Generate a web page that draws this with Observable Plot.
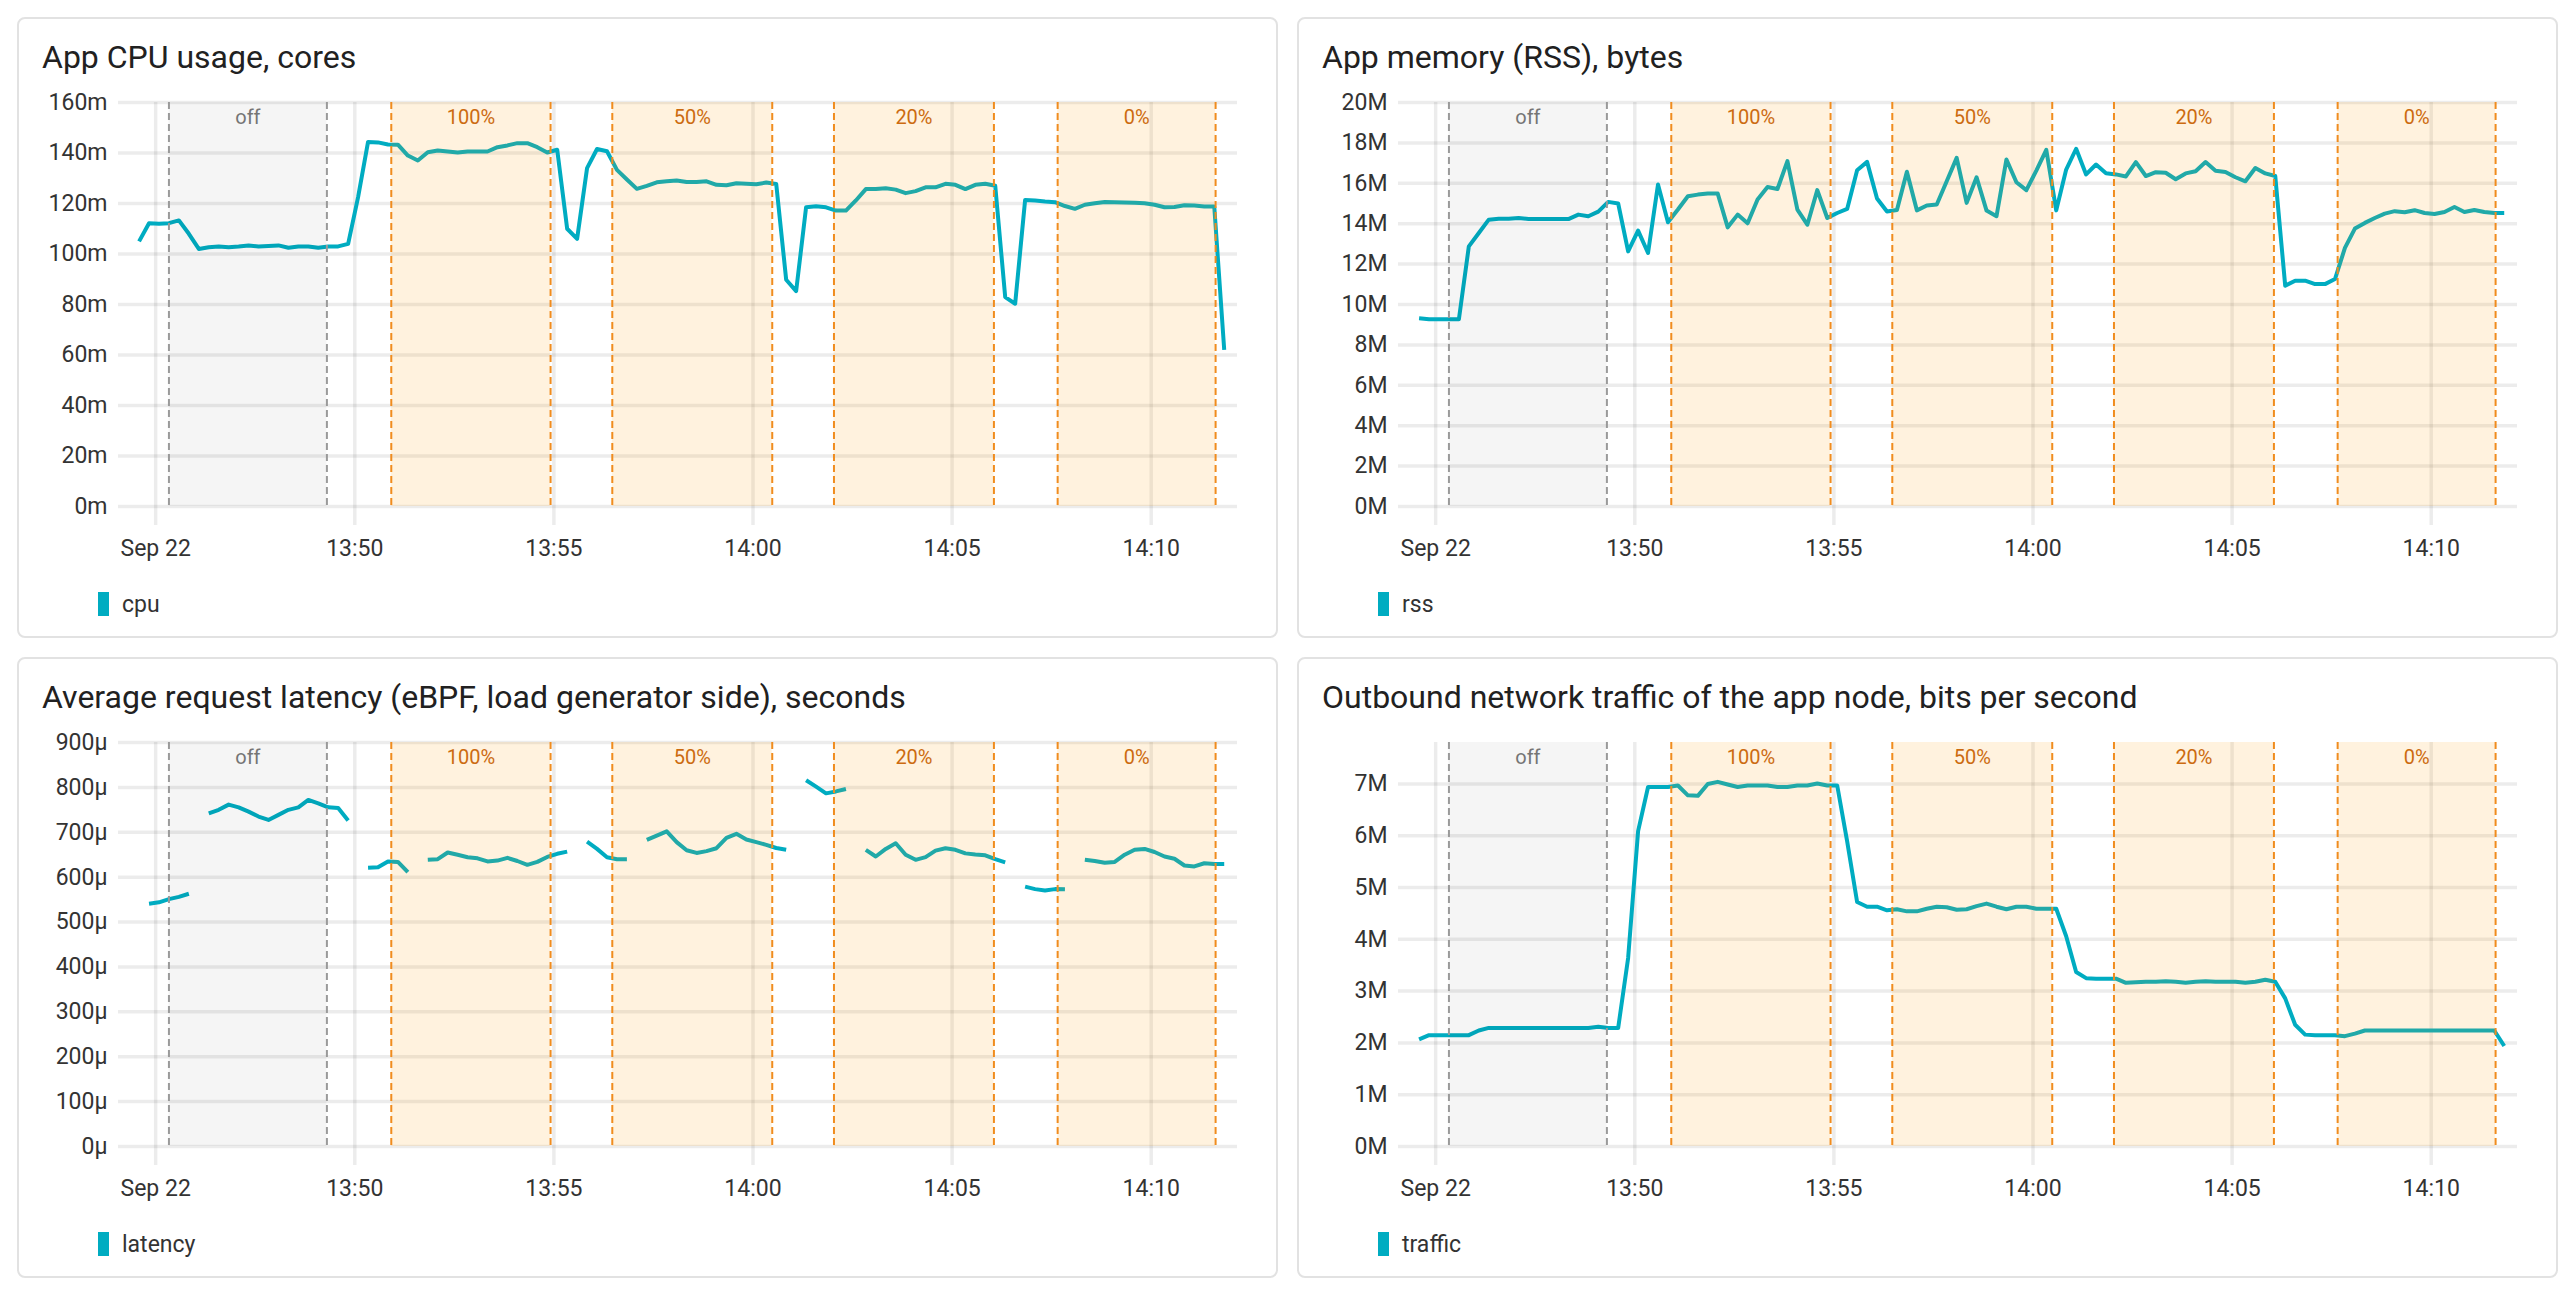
<!DOCTYPE html>
<html>
<head>
<meta charset="utf-8">
<script src="https://cdn.jsdelivr.net/npm/d3@7"></script>
<script src="https://cdn.jsdelivr.net/npm/@observablehq/plot@0.6"></script>
<style>
html, body { margin: 0; padding: 0; background: #fff; }
body { width: 2576px; height: 1296px; position: relative; overflow: hidden; font-family: Roboto, "Noto Sans", sans-serif; }
.card { position: absolute; width: 1261px; height: 621px; box-sizing: border-box; border: 2px solid #e2e2e2; border-radius: 8px; background: #fff; }
.title { position: absolute; left: 23px; top: 22px; font-size: 32px; line-height: 32px; color: #212121; white-space: nowrap; }
.chart { position: absolute; left: 0; top: 60px; width: 1257px; }
.legend { position: absolute; left: 79px; top: 573px; height: 24px; display: flex; align-items: center; font-size: 23px; color: #333; }
.legend .sw { width: 11px; height: 24px; background: #00acc1; margin-right: 13px; }
</style>
</head>
<body>
<script>
// ---- sampling grid (one sample every 15 s) ----
const sampleStart = "13:44:35";
const sampleStepSeconds = 15;

// ---- x axis ----
const xDomainTimes = ["13:44:04", "14:12:10"];
const xTickTimes = ["13:45", "13:50", "13:55", "14:00", "14:05", "14:10"];
const xTickLabels = ["Sep 22", "13:50", "13:55", "14:00", "14:05", "14:10"];

// ---- annotated phases ----
const regionLabels = ["off", "100%", "50%", "20%", "0%"];
const regionStarts = ["13:45:20", "13:50:55", "13:56:28", "14:02:02", "14:07:39"];
const regionEnds   = ["13:49:18", "13:54:55", "14:00:29", "14:06:03", "14:11:37"];

// ---- series values ----
const cpuMillicores = [
  105, 112.2, 112, 112.2, 113.3, 108, 102, 102.7, 103, 102.7,
  103, 103.4, 103, 103.2, 103.4, 102.5, 103, 103, 102.5, 103,
  103, 104, 122.5, 144.4, 144.2, 143.4, 143.3, 139, 137, 140.3,
  141, 140.6, 140.2, 140.6, 140.6, 140.6, 142.3, 143, 143.9, 143.9,
  142.3, 140.2, 141.3, 110, 106, 134, 141.6, 140.7, 133.3, 129.5,
  125.8, 127, 128.4, 128.8, 129.1, 128.5, 128.5, 128.8, 127.4, 127.2,
  128, 127.8, 127.6, 128.3, 127.7, 89.8, 85.3, 118.5, 118.9, 118.5,
  117.2, 117.2, 121.2, 125.7, 125.7, 126, 125.5, 124.1, 124.9, 126.4,
  126.4, 127.8, 127.4, 125.7, 127.4, 127.8, 127, 82.9, 80.3, 121.4,
  121.2, 120.8, 120.5, 119, 117.9, 119.5, 120.1, 120.6, 120.5, 120.4,
  120.3, 120.1, 119.5, 118.5, 118.6, 119.3, 119.2, 118.8, 118.8, 62
];
const rssMegabytes = [
  9.32, 9.27, 9.27, 9.27, 9.27, 12.88, 13.54, 14.2, 14.25, 14.25,
  14.28, 14.23, 14.23, 14.23, 14.23, 14.23, 14.45, 14.37, 14.6, 15.08,
  15.0, 12.63, 13.66, 12.55, 15.94, 14.07, 14.7, 15.36, 15.44, 15.49,
  15.49, 13.82, 14.45, 14.02, 15.2, 15.82, 15.72, 17.1, 14.7, 13.95,
  15.66, 14.28, 14.53, 14.73, 16.65, 17.06, 15.25, 14.6, 14.68, 16.57,
  14.66, 14.9, 14.95, 16.1, 17.26, 15.03, 16.3, 14.65, 14.37, 17.18,
  16.05, 15.66, 16.63, 17.66, 14.66, 16.68, 17.71, 16.44, 16.93, 16.5,
  16.44, 16.34, 17.05, 16.36, 16.55, 16.52, 16.2, 16.49, 16.6, 17.05,
  16.62, 16.56, 16.3, 16.1, 16.76, 16.49, 16.36, 10.93, 11.18, 11.18,
  11.01, 11.01, 11.26, 12.8, 13.76, 14.04, 14.28, 14.5, 14.62, 14.57,
  14.67, 14.53, 14.48, 14.58, 14.83, 14.58, 14.68, 14.58, 14.53, 14.53
];
const latencyMicros = [
  null, 541, 544, 551, 556, 563, null, 742, 750, 761.6,
  755.6, 746, 735, 727.5, 738.7, 750, 755.6, 772, 764.5, 755.6,
  754, 726, null, 621, 622, 635, 634, 611, null, 638.6,
  640, 655, 650, 644.5, 642, 635, 637, 643, 636, 627.5,
  634, 645, 652, 657, null, 679, 663, 644.5, 640, 640,
  null, 683, 692.6, 702, 678, 660, 654, 658, 664.5, 687.5,
  696.5, 683.8, 678, 672, 665, 661, null, 816, 801.6, 786.7,
  791, 796.4, null, 661, 646, 663, 675.5, 650, 638.6, 644.5,
  659, 664.5, 661, 653, 650.5, 648.6, 640, 633, null, 579,
  573.4, 570.4, 573.4, 573, null, 638.6, 636, 632, 634, 650,
  661, 663, 656, 646, 641, 626, 624, 631, 629.6, 629.6
];
const trafficMbps = [
  2.07, 2.15, 2.15, 2.15, 2.15, 2.15, 2.24, 2.29, 2.29, 2.29,
  2.29, 2.29, 2.29, 2.29, 2.29, 2.29, 2.29, 2.29, 2.31, 2.29,
  2.29, 3.64, 6.09, 6.94, 6.94, 6.94, 6.97, 6.78, 6.77, 7.0,
  7.04, 6.99, 6.94, 6.97, 6.97, 6.97, 6.94, 6.94, 6.97, 6.97,
  7.01, 6.97, 6.97, 5.89, 4.72, 4.63, 4.63, 4.56, 4.58, 4.54,
  4.54, 4.59, 4.63, 4.62, 4.57, 4.58, 4.64, 4.69, 4.63, 4.58,
  4.63, 4.63, 4.59, 4.59, 4.59, 4.06, 3.37, 3.25, 3.24, 3.24,
  3.24, 3.16, 3.17, 3.18, 3.18, 3.19, 3.18, 3.16, 3.18, 3.19,
  3.18, 3.18, 3.18, 3.16, 3.18, 3.22, 3.18, 2.86, 2.35, 2.16,
  2.15, 2.15, 2.15, 2.13, 2.18, 2.24, 2.24, 2.24, 2.24, 2.24,
  2.24, 2.24, 2.24, 2.24, 2.24, 2.24, 2.24, 2.24, 2.24, 1.94
];

// ---- y axes ----
const cpuTicks = [0, 20, 40, 60, 80, 100, 120, 140, 160];
const rssTicks = [0, 2, 4, 6, 8, 10, 12, 14, 16, 18, 20];
const latencyTicks = [0, 100, 200, 300, 400, 500, 600, 700, 800, 900];
const trafficTicks = [0, 1, 2, 3, 4, 5, 6, 7];

// ---- helpers ----
const at = s => { const [h, m, sec = 0] = s.split(":").map(Number); return new Date(Date.UTC(2023, 8, 22, h, m, sec)); };
const t0 = +at(sampleStart);
const xDomain = xDomainTimes.map(at);
const xTicks = xTickTimes.map(at);
const xFmt = d => { const k = xTicks.findIndex(t => +t === +d); return k >= 0 ? xTickLabels[k] : ""; };
const regions = regionLabels.map((label, i) => ({label, start: at(regionStarts[i]), end: at(regionEnds[i])}));
const offRegions = regions.filter(r => r.label === "off");
const loadRegions = regions.filter(r => r.label !== "off");

const panels = [
  {left: 17, top: 17, title: "App CPU usage, cores", legend: "cpu", values: cpuMillicores, domain: [0, 160], ticks: cpuTicks, fmt: d => d + "m"},
  {left: 1297, top: 17, title: "App memory (RSS), bytes", legend: "rss", values: rssMegabytes, domain: [0, 20], ticks: rssTicks, fmt: d => d + "M"},
  {left: 17, top: 657, title: "Average request latency (eBPF, load generator side), seconds", legend: "latency", values: latencyMicros, domain: [0, 900], ticks: latencyTicks, fmt: d => d + "\u00b5"},
  {left: 1297, top: 657, title: "Outbound network traffic of the app node, bits per second", legend: "traffic", values: trafficMbps, domain: [0, 7.8], ticks: trafficTicks, fmt: d => d + "M"}
];

const gridStyle = {stroke: "#000", strokeOpacity: 0.075, strokeWidth: 3.5};

for (const p of panels) {
  const card = document.createElement("div");
  card.className = "card";
  card.style.left = p.left + "px";
  card.style.top = p.top + "px";
  document.body.appendChild(card);

  const title = document.createElement("div");
  title.className = "title";
  title.textContent = p.title;
  card.appendChild(title);

  const rows = p.values.map((v, i) => ({t: new Date(t0 + i * sampleStepSeconds * 1000), v}));

  const chart = Plot.plot({
    width: 1257,
    height: 487,
    marginLeft: 99,
    marginRight: 39,
    marginTop: 23,
    marginBottom: 60,
    style: {fontFamily: "Roboto, 'Noto Sans', sans-serif", fontSize: "23px", color: "#333", background: "transparent", overflow: "visible"},
    x: {type: "utc", domain: xDomain, ticks: xTicks, tickFormat: xFmt, tickSize: 0, tickPadding: 33, label: null},
    y: {domain: p.domain, ticks: p.ticks, tickFormat: p.fmt, tickSize: 0, tickPadding: 11, label: null},
    marks: [
      Plot.ruleY(p.ticks, gridStyle),
      Plot.ruleX(xTicks, {...gridStyle, insetBottom: -19}),
      Plot.line(rows, {x: "t", y: "v", stroke: "#00acc1", strokeWidth: 4, strokeLinecap: "butt", strokeLinejoin: "round"}),
      Plot.rect(offRegions, {x1: "start", x2: "end", fill: "#000", fillOpacity: 0.04}),
      Plot.rect(loadRegions, {x1: "start", x2: "end", fill: "#ff9800", fillOpacity: 0.13}),
      Plot.ruleX(offRegions.flatMap(r => [r.start, r.end]), {stroke: "#9a9a9a", strokeWidth: 2, strokeDasharray: "7,4"}),
      Plot.ruleX(loadRegions.flatMap(r => [r.start, r.end]), {stroke: "#f08c1e", strokeWidth: 2, strokeDasharray: "7,4"}),
      Plot.text(regions, {
        x: r => new Date((+r.start + +r.end) / 2),
        text: "label",
        frameAnchor: "top",
        lineAnchor: "middle",
        dy: 15,
        fontSize: 20,
        fill: r => r.label === "off" ? "#757575" : "#cc6b10"
      })
    ]
  });
  const holder = document.createElement("div");
  holder.className = "chart";
  holder.appendChild(chart);
  card.appendChild(holder);

  const legend = document.createElement("div");
  legend.className = "legend";
  const sw = document.createElement("span");
  sw.className = "sw";
  const lt = document.createElement("span");
  lt.textContent = p.legend;
  legend.appendChild(sw);
  legend.appendChild(lt);
  card.appendChild(legend);
}
</script>
</body>
</html>
